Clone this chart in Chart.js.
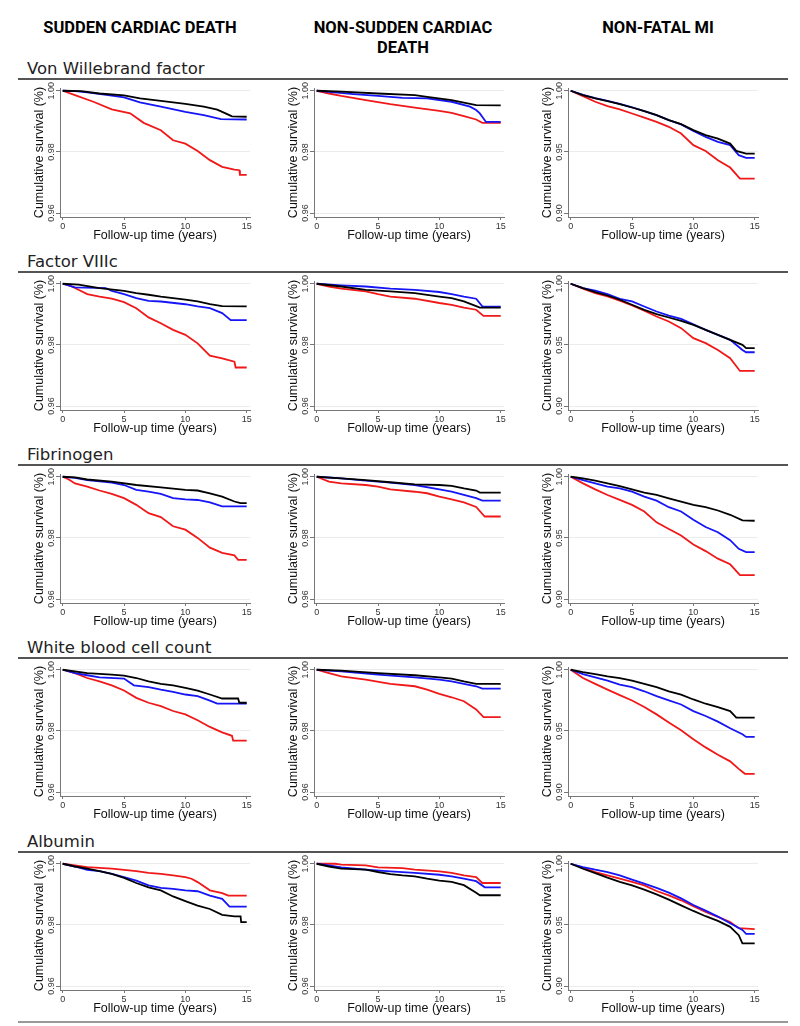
<!DOCTYPE html>
<html>
<head>
<meta charset="utf-8">
<script src="https://cdn.jsdelivr.net/npm/chart.js@4.4.0/dist/chart.umd.min.js"></script>
<style>
  body { margin: 0; background: #fff; }
  #page { position: relative; width: 800px; height: 1026px; overflow: hidden; background: #fff; }
  .colhead { position: absolute; width: 300px; text-align: center; font: 700 16.5px Roboto, sans-serif; line-height: 20px; color: #000; }
  .rowhead { position: absolute; left: 27px; font: 400 16.5px "DejaVu Sans", sans-serif; line-height: 20px; color: #222; white-space: nowrap; }
  .rule { position: absolute; left: 18px; width: 770px; height: 2px; background: #555; }
  .panel { position: absolute; }
</style>
</head>
<body>
<div id="page"></div>
<script>
// headings
const columnTitles = ['SUDDEN CARDIAC DEATH', 'NON-SUDDEN CARDIAC<br>DEATH', 'NON-FATAL MI'];
const rowTitles = ['Von Willebrand factor', 'Factor VIIIc', 'Fibrinogen', 'White blood cell count', 'Albumin'];

// axes
const xTicks = [0, 5, 10, 15];
const yTicksDeath = [0.96, 0.98, 1.00];
const yTicksMI = [0.90, 0.95, 1.00];
const xTitle = 'Follow-up time (years)';
const yTitle = 'Cumulative survival (%)';

// curves: [years, survival], black / blue / red
const vwfScdBlack = [[0,1],[1.5,0.9999],[3,0.9991],[5,0.9985],[6.3,0.9975],[8,0.9967],[10,0.9957],[11.5,0.9948],[12.6,0.9938],[13.5,0.9922],[13.8,0.9916],[15,0.9915]];
const vwfScdBlue = [[0,1],[1,0.9999],[2,0.9995],[3.7,0.9986],[5,0.9978],[6.3,0.9962],[8,0.9948],[10,0.9931],[11.5,0.992],[12.9,0.9907],[15,0.9906]];
const vwfScdRed = [[0,1],[1,0.9986],[2.5,0.9964],[4,0.9939],[5.5,0.9926],[6.6,0.9895],[8,0.9871],[9,0.9838],[10,0.9827],[11,0.9803],[12,0.9773],[13,0.9751],[14,0.9742],[14.4,0.974],[14.45,0.9725],[15,0.9725]];

const vwfNscdBlack = [[0,1],[2,0.9997],[5,0.9991],[8,0.9986],[9,0.998],[11,0.9969],[12,0.9961],[13,0.9953],[15,0.9952]];
const vwfNscdBlue = [[0,1],[1,0.9996],[3,0.9989],[5,0.9983],[7,0.9977],[9,0.9975],[11,0.9964],[12.5,0.9948],[13,0.9937],[13.3,0.9926],[13.8,0.9898],[15,0.9898]];
const vwfNscdRed = [[0,1],[1,0.9991],[2,0.9983],[4,0.9969],[6,0.9956],[8,0.9945],[10,0.9934],[11,0.9928],[12,0.9917],[13,0.9906],[13.5,0.9895],[15,0.9895]];

const vwfMiBlack = [[0,1],[1,0.9964],[2,0.9937],[3,0.9915],[4,0.9891],[5,0.9863],[6,0.9833],[7,0.9801],[8,0.976],[9,0.9727],[10,0.9678],[11,0.9637],[12,0.9609],[13,0.9568],[13.5,0.9508],[14.3,0.9486],[15,0.9486]];
const vwfMiBlue = [[0,1],[1,0.9966],[2,0.994],[3,0.9917],[4,0.9893],[5,0.9865],[6,0.9833],[7,0.98],[8,0.976],[9,0.9725],[10,0.9672],[11,0.9623],[12,0.9582],[13,0.9555],[13.7,0.9473],[14.3,0.9451],[15,0.9451]];
const vwfMiRed = [[0,1],[1,0.9956],[2,0.991],[3,0.9874],[4,0.9847],[5,0.9814],[6,0.9781],[7,0.9746],[8,0.9705],[9,0.965],[10,0.9555],[11,0.9508],[12,0.9432],[13,0.9372],[13.8,0.9281],[15,0.9281]];

const f8ScdBlack = [[0,1],[1.3,0.9997],[3,0.9986],[5,0.9977],[6,0.9969],[7,0.9964],[8,0.9958],[9,0.9953],[10,0.9948],[11,0.9942],[12,0.9933],[13,0.9927],[15,0.9926]];
const f8ScdBlue = [[0,1],[1,0.9988],[3.5,0.9986],[4,0.9977],[5,0.9966],[6,0.9953],[7,0.9944],[8,0.9942],[10,0.9933],[11,0.9926],[12,0.992],[13,0.9904],[13.7,0.9881],[15,0.9881]];
const f8ScdRed = [[0,1],[0.5,0.9995],[1,0.9986],[2,0.9966],[3,0.9958],[4,0.9951],[5,0.994],[6,0.992],[7,0.989],[8,0.9871],[9,0.9849],[10,0.9833],[11,0.9805],[12,0.9765],[13,0.9756],[14,0.9745],[14.1,0.9726],[15,0.9726]];

const f8NscdBlack = [[0,1],[2,0.9991],[4,0.998],[6,0.9975],[8,0.9969],[10,0.9958],[11,0.9953],[12,0.9942],[13,0.9927],[13.3,0.9922],[15,0.9922]];
const f8NscdBlue = [[0,1],[2,0.9995],[4,0.9991],[6,0.9984],[8,0.998],[10,0.9973],[11,0.9966],[12,0.9958],[13,0.9951],[13.5,0.9926],[15,0.9925]];
const f8NscdRed = [[0,1],[1,0.9991],[2,0.9984],[4,0.9975],[5,0.9966],[6,0.9958],[8,0.9951],[10,0.9937],[11,0.9931],[12,0.9922],[13,0.9915],[13.6,0.9895],[15,0.9895]];

const f8MiBlack = [[0,1],[1,0.9964],[2,0.9932],[3,0.9904],[4,0.9869],[5,0.9828],[6,0.9787],[7,0.9751],[8,0.9724],[9,0.9697],[10,0.9664],[11,0.9623],[12,0.9582],[13,0.9541],[14,0.95],[14.3,0.9473],[15,0.9473]];
const f8MiBlue = [[0,1],[1,0.9964],[2,0.9943],[3,0.9915],[4,0.9877],[5,0.9855],[6,0.9814],[7,0.9773],[8,0.974],[9,0.9713],[10,0.9669],[11,0.9623],[12,0.9582],[13,0.9541],[14,0.9459],[14.3,0.944],[15,0.944]];
const f8MiRed = [[0,1],[1,0.9959],[2,0.9923],[3,0.9896],[4,0.9861],[5,0.9822],[6,0.9779],[7,0.9732],[8,0.9691],[9,0.9637],[10,0.9555],[11,0.9514],[12,0.9459],[13,0.9391],[13.8,0.9287],[15,0.9287]];

const fibScdBlack = [[0,1],[1,0.9998],[2,0.9991],[4,0.9984],[6,0.9973],[8,0.9965],[10,0.9957],[11,0.9955],[12,0.9946],[13,0.9935],[14,0.9919],[14.5,0.9914],[15,0.9914]];
const fibScdBlue = [[0,1],[1,0.9996],[2,0.9989],[4,0.9981],[5,0.9973],[6,0.9957],[7,0.9951],[8,0.9944],[9,0.993],[10,0.9926],[11,0.9924],[12,0.9916],[13,0.9903],[15,0.9903]];
const fibScdRed = [[0,1],[0.5,0.9991],[1,0.9978],[2,0.9968],[3,0.9955],[4,0.9944],[5,0.993],[6,0.9908],[7,0.9881],[8,0.9868],[9,0.9838],[10,0.9827],[11,0.98],[12,0.9768],[13,0.9751],[14,0.9743],[14.3,0.9728],[15,0.9728]];

const fibNscdBlack = [[0,1],[2,0.9995],[4,0.9989],[6,0.9982],[8,0.9975],[10,0.9973],[11,0.997],[12,0.9962],[13,0.9955],[13.3,0.9948],[15,0.9948]];
const fibNscdBlue = [[0,1],[2,0.9995],[4,0.9987],[6,0.9981],[8,0.9973],[10,0.9959],[11,0.9951],[12,0.9941],[13,0.993],[13.5,0.9922],[15,0.9922]];
const fibNscdRed = [[0,1],[1,0.9984],[2,0.9978],[4,0.9973],[5,0.9968],[6,0.9959],[8,0.9951],[9,0.9946],[10,0.9935],[11,0.9926],[12,0.9916],[13,0.9901],[13.7,0.987],[15,0.987]];

const fibMiBlack = [[0,1],[1,0.9986],[2,0.9968],[3,0.9946],[4,0.9924],[5,0.9897],[6,0.987],[7,0.9851],[8,0.9824],[9,0.9797],[10,0.977],[11,0.9751],[12,0.9724],[13,0.9689],[14,0.9643],[15,0.964]];
const fibMiBlue = [[0,1],[1,0.9973],[2,0.9946],[3,0.9919],[4,0.9905],[5,0.9878],[6,0.9838],[7,0.9805],[8,0.9751],[9,0.9716],[10,0.9649],[11,0.9589],[12,0.9546],[13,0.9481],[13.7,0.9411],[14.3,0.9384],[15,0.9384]];
const fibMiRed = [[0,1],[1,0.9946],[2,0.9897],[3,0.9851],[4,0.9811],[5,0.977],[6,0.9716],[7,0.9627],[8,0.9573],[9,0.9519],[10,0.9446],[11,0.9392],[12,0.933],[13,0.9284],[13.8,0.9195],[15,0.9195]];

const wbcScdBlack = [[0,1],[2,0.9989],[4,0.9984],[5,0.9981],[6,0.9973],[7,0.9962],[8,0.9954],[9,0.9949],[10,0.9941],[11,0.9932],[12,0.9919],[13,0.9906],[14.3,0.9906],[14.4,0.9892],[15,0.9892]];
const wbcScdBlue = [[0,1],[1,0.9989],[2,0.9982],[3,0.9975],[5,0.9971],[5.8,0.9949],[7,0.9943],[8,0.9935],[9,0.9928],[10,0.9919],[11,0.9914],[12,0.9899],[12.6,0.9889],[15,0.9889]];
const wbcScdRed = [[0,1],[1,0.9989],[2,0.9973],[3,0.9962],[4,0.9949],[5,0.9932],[6,0.9908],[7,0.9892],[8,0.9881],[9,0.9865],[10,0.9854],[11,0.9835],[12,0.9813],[13,0.9795],[13.8,0.9784],[13.9,0.9768],[15,0.9768]];

const wbcNscdBlack = [[0,1],[2,0.9997],[5,0.9989],[8,0.9982],[10,0.9975],[11,0.9971],[12,0.9962],[13,0.9954],[15,0.9954]];
const wbcNscdBlue = [[0,1],[2,0.9995],[5,0.9984],[8,0.9975],[10,0.9968],[11,0.9962],[12,0.9954],[13,0.9946],[13.5,0.9938],[15,0.9938]];
const wbcNscdRed = [[0,1],[1,0.9989],[2,0.9978],[4,0.9968],[6,0.9954],[8,0.9946],[9,0.9935],[10,0.9921],[11,0.991],[12,0.9897],[13,0.987],[13.6,0.9845],[15,0.9845]];

const wbcMiBlack = [[0,1],[1,0.9981],[2,0.9965],[3,0.9946],[4,0.9932],[5,0.9911],[6,0.9884],[7,0.9857],[8,0.9824],[9,0.9797],[10,0.9757],[11,0.9722],[12,0.9695],[13,0.9662],[13.5,0.9608],[15,0.9608]];
const wbcMiBlue = [[0,1],[1,0.9965],[2,0.9938],[3,0.9911],[4,0.9878],[5,0.9857],[6,0.9824],[7,0.9784],[8,0.9749],[9,0.9716],[10,0.9662],[11,0.9622],[12,0.9576],[13,0.9522],[14,0.9473],[14.3,0.9451],[15,0.9451]];
const wbcMiRed = [[0,1],[1,0.9932],[2,0.9884],[3,0.9838],[4,0.9792],[5,0.9749],[6,0.9695],[7,0.9635],[8,0.9568],[9,0.9505],[10,0.9432],[11,0.9365],[12,0.9305],[13,0.9251],[13.7,0.9189],[14.2,0.9149],[15,0.9149]];

const albScdBlack = [[0,1],[1,0.9991],[2,0.9984],[3,0.9976],[4,0.9967],[5,0.9954],[6,0.9937],[7,0.9923],[8,0.9913],[9,0.9893],[10,0.9878],[11,0.9863],[12,0.9852],[13,0.9833],[14,0.9828],[14.5,0.9828],[14.55,0.9809],[15,0.9809]];
const albScdBlue = [[0,1],[1,0.9991],[2,0.998],[3,0.9976],[4,0.9967],[5,0.9956],[6,0.9945],[7,0.9929],[8,0.9921],[9,0.9918],[10,0.9913],[11,0.991],[12,0.9896],[13,0.9885],[13.6,0.986],[15,0.986]];
const albScdRed = [[0,1],[1,0.9995],[2,0.9989],[4,0.9984],[5,0.998],[6,0.9976],[7,0.997],[8,0.9967],[9,0.9962],[10,0.9956],[10.5,0.9951],[11,0.994],[12,0.9913],[13,0.9904],[13.5,0.9896],[15,0.9896]];

const albNscdBlack = [[0,1],[1,0.9991],[2,0.9984],[4,0.9981],[5,0.9973],[6,0.9966],[7,0.9962],[8,0.9959],[9,0.9951],[10,0.9945],[11,0.9941],[12,0.993],[13,0.9905],[13.3,0.9897],[15,0.9897]];
const albNscdBlue = [[0,1],[1,0.9995],[2,0.9988],[4,0.9981],[6,0.9975],[8,0.997],[10,0.9964],[11,0.9959],[12,0.9951],[13,0.9943],[13.7,0.9923],[15,0.9923]];
const albNscdRed = [[0,1],[1.5,1],[2,0.9997],[4,0.9995],[5,0.9988],[7,0.9986],[8,0.9981],[10,0.9975],[11,0.997],[12,0.9962],[13,0.9956],[13.5,0.9937],[15,0.9937]];

const albMiBlack = [[0,1],[1,0.9959],[2,0.9924],[3,0.9886],[4,0.9851],[5,0.9823],[6,0.9788],[7,0.975],[8,0.9707],[9,0.966],[10,0.9614],[11,0.9571],[12,0.9533],[13,0.9484],[13.7,0.9416],[14,0.9348],[15,0.9348]];
const albMiBlue = [[0,1],[1,0.9973],[2,0.9951],[3,0.9932],[4,0.9905],[5,0.987],[6,0.9837],[7,0.9802],[8,0.9764],[9,0.9717],[10,0.9663],[11,0.9617],[12,0.9568],[13,0.9514],[14,0.9459],[14.3,0.9427],[15,0.9427]];
const albMiRed = [[0,1],[1,0.9967],[2,0.9932],[3,0.9905],[4,0.9878],[5,0.9851],[6,0.9823],[7,0.9777],[8,0.9742],[9,0.9701],[10,0.9652],[11,0.9606],[12,0.9565],[13,0.9524],[13.7,0.9473],[15,0.9465]];

const panelCurves = [
  [[vwfScdBlack, vwfScdBlue, vwfScdRed], [vwfNscdBlack, vwfNscdBlue, vwfNscdRed], [vwfMiBlack, vwfMiBlue, vwfMiRed]],
  [[f8ScdBlack, f8ScdBlue, f8ScdRed], [f8NscdBlack, f8NscdBlue, f8NscdRed], [f8MiBlack, f8MiBlue, f8MiRed]],
  [[fibScdBlack, fibScdBlue, fibScdRed], [fibNscdBlack, fibNscdBlue, fibNscdRed], [fibMiBlack, fibMiBlue, fibMiRed]],
  [[wbcScdBlack, wbcScdBlue, wbcScdRed], [wbcNscdBlack, wbcNscdBlue, wbcNscdRed], [wbcMiBlack, wbcMiBlue, wbcMiRed]],
  [[albScdBlack, albScdBlue, albScdRed], [albNscdBlack, albNscdBlue, albNscdRed], [albMiBlack, albMiBlue, albMiRed]]
];

const lineColors = ['#000000', '#1515f5', '#f01818'];

// layout
const page = document.getElementById('page');
const colHeadCenter = [140, 403, 658];
const areaLeft = [60, 314, 568];
const rowStep = 193.15;
const axisW = 34, axisH = 30, padTop = 10, padRight = 8, areaW = 190, areaH = 129;

columnTitles.forEach((t, i) => {
  const d = document.createElement('div');
  d.className = 'colhead';
  d.style.left = (colHeadCenter[i] - 150) + 'px';
  d.style.top = '18px';
  d.innerHTML = t;
  page.appendChild(d);
});

rowTitles.forEach((t, r) => {
  const d = document.createElement('div');
  d.className = 'rowhead';
  d.style.top = (59 + r * rowStep) + 'px';
  d.textContent = t;
  page.appendChild(d);
  const line = document.createElement('div');
  line.className = 'rule';
  line.style.top = (78 + r * rowStep) + 'px';
  page.appendChild(line);
});

const bottomRule = document.createElement('div');
bottomRule.className = 'rule';
bottomRule.style.top = '1021px';
bottomRule.style.background = '#999';
page.appendChild(bottomRule);

function makePanel(r, c) {
  const mi = c === 2;
  const yt = mi ? yTicksMI : yTicksDeath;
  const areaTop = Math.round(88 + r * rowStep);
  const wrap = document.createElement('div');
  wrap.className = 'panel';
  wrap.style.left = (areaLeft[c] - axisW) + 'px';
  wrap.style.top = (areaTop - padTop) + 'px';
  const canvas = document.createElement('canvas');
  const w = axisW + areaW + padRight, h = padTop + areaH + axisH;
  canvas.width = w; canvas.height = h;
  canvas.style.width = w + 'px'; canvas.style.height = h + 'px';
  wrap.appendChild(canvas);
  page.appendChild(wrap);

  const tickFont = { family: 'Liberation Sans', size: 9 };
  const titleFont = { family: 'Liberation Sans', size: 12.5 };

  new Chart(canvas, {
    type: 'line',
    data: {
      datasets: panelCurves[r][c].map((pts, i) => ({
        data: pts.map(p => ({ x: p[0], y: p[1] })),
        borderColor: lineColors[i],
        borderWidth: 1.8,
        pointRadius: 0,
        fill: false,
        tension: 0
      }))
    },
    options: {
      responsive: false,
      animation: false,
      events: [],
      layout: { padding: { left: 0, top: padTop, right: padRight, bottom: 0 } },
      plugins: { legend: { display: false }, tooltip: { enabled: false } },
      scales: {
        x: {
          type: 'linear',
          min: -0.22,
          max: 15.27,
          afterBuildTicks: s => { s.ticks = xTicks.map(v => ({ value: v })); },
          afterFit: s => { s.height = axisH; s.paddingLeft = 0; s.paddingRight = 0; },
          ticks: { font: tickFont, color: '#333', padding: 1.5, maxRotation: 0, autoSkip: false, callback: v => String(v) },
          grid: { display: true, drawOnChartArea: false, drawTicks: true, tickLength: 3, tickColor: '#777' },
          border: { display: true, color: '#777', width: 1 },
          title: { display: true, text: xTitle, font: titleFont, color: '#111', padding: { top: 0, bottom: 4.2 } }
        },
        y: {
          type: 'linear',
          min: mi ? 0.89675 : 0.9587,
          max: mi ? 1.00225 : 1.0009,
          afterBuildTicks: s => { s.ticks = yt.map(v => ({ value: v })); },
          afterFit: s => { s.width = axisW; s.paddingTop = 0; s.paddingBottom = 0; },
          ticks: { font: tickFont, color: '#333', minRotation: 90, maxRotation: 90, crossAlign: 'center', padding: -4.5, autoSkip: false, callback: v => v.toFixed(2) },
          grid: { color: '#ececec', tickColor: '#777', tickLength: 4, drawTicks: true },
          border: { display: true, color: '#777', width: 1 },
          title: { display: true, text: yTitle, font: titleFont, color: '#111', padding: { top: 6.5, bottom: 0 } }
        }
      }
    }
  });
}

for (let r = 0; r < rowTitles.length; r++) {
  for (let c = 0; c < 3; c++) makePanel(r, c);
}
</script>
</body>
</html>
